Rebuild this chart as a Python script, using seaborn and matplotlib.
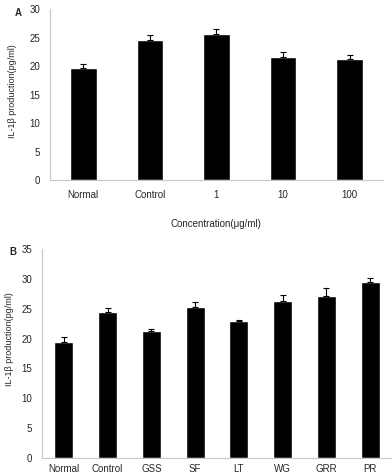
import numpy as np
import pandas as pd
import matplotlib
matplotlib.use('Agg')
import matplotlib.pyplot as plt
import seaborn as sns

# Panel A: concentration series
conc_labels = ['Normal', 'Control', '1', '10', '100']
conc_values = [19.6, 24.6, 25.7, 21.6, 21.3]
conc_errors = [0.8, 0.9, 0.8, 0.9, 0.6]

# Panel B: sample series
sample_labels = ['Normal', 'Control', 'GSS', 'SF', 'LT', 'WG', 'GRR', 'PR']
sample_values = [19.4, 24.4, 21.2, 25.3, 22.9, 26.3, 27.1, 29.4]
sample_errors = [0.8, 0.8, 0.4, 0.9, 0.15, 1.0, 1.3, 0.7]

sns.set_style('white')
plt.rcParams['font.family'] = ['Liberation Sans', 'DejaVu Sans']

fig = plt.figure(figsize=(3.92, 4.76), dpi=100)
ax_a = fig.add_axes([0.1276, 0.6218, 0.849, 0.359])
ax_b = fig.add_axes([0.107, 0.0378, 0.893, 0.439])

axis_gray = '#c8c8c8'


def draw_panel(ax, labels, values, errors, width, ymax, step):
    df = pd.DataFrame({'group': labels, 'value': values})
    sns.barplot(data=df, x='group', y='value', color='black', width=width,
                ax=ax, saturation=1, errorbar=None)
    x = np.arange(len(labels))
    ax.errorbar(x, values, yerr=[np.zeros(len(errors)), errors], fmt='none',
                ecolor='black', elinewidth=0.8, capsize=2, capthick=0.8)
    ax.set_xlim(-0.5, len(labels) - 0.5)
    ax.set_ylim(0, ymax)
    ax.set_yticks(np.arange(0, ymax + 1, step))
    for side in ['top', 'right']:
        ax.spines[side].set_visible(False)
    for side in ['left', 'bottom']:
        ax.spines[side].set_color(axis_gray)
        ax.spines[side].set_linewidth(0.8)
    ax.tick_params(axis='y', length=3, color=axis_gray, labelsize=7, pad=4)
    ax.tick_params(axis='x', length=0, labelsize=7)
    ax.set_xlabel('')
    ax.set_ylabel('IL-1β production(pg/ml)', fontsize=6.5)


draw_panel(ax_a, conc_labels, conc_values, conc_errors, 0.4, 30, 5)
ax_a.tick_params(axis='x', pad=7)
ax_a.yaxis.set_label_coords(-0.1, 0.52)
ax_a.set_xlabel('Concentration(μg/ml)', fontsize=7, labelpad=14)
fig.text(0.038, 0.967, 'A', fontsize=7, fontweight='bold')

draw_panel(ax_b, sample_labels, sample_values, sample_errors, 0.43, 35, 5)
ax_b.tick_params(axis='x', pad=4)
ax_b.yaxis.set_label_coords(-0.08, 0.57)
fig.text(0.025, 0.465, 'B', fontsize=7, fontweight='bold')

fig.savefig('out.png', dpi=100)
